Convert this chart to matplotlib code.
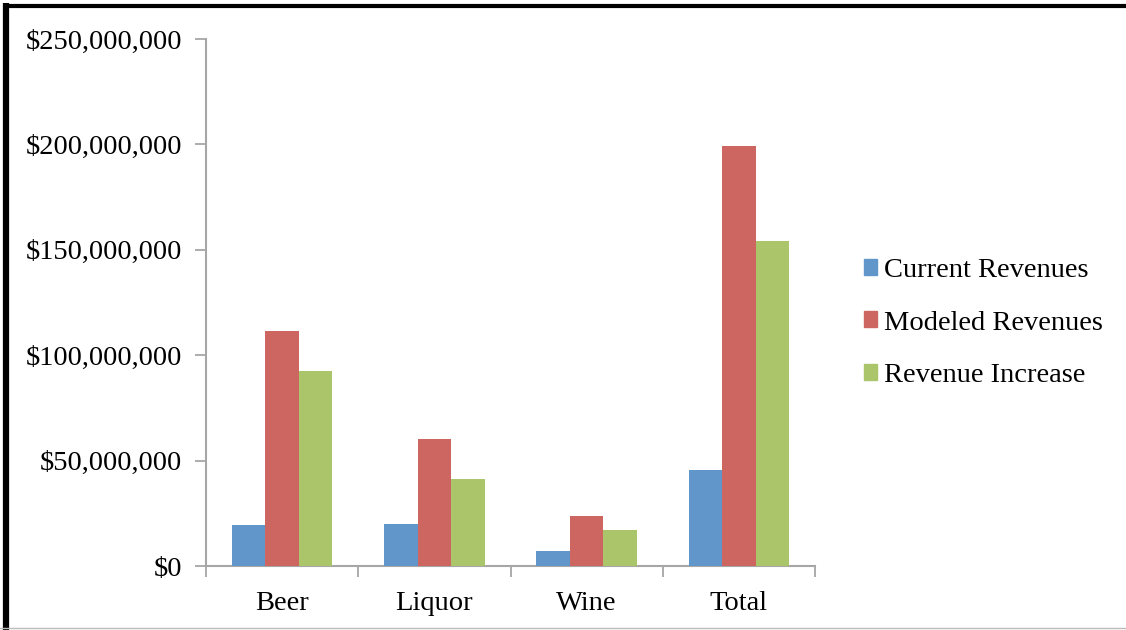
import matplotlib.pyplot as plt
import numpy as np
from matplotlib.patches import Rectangle
from matplotlib.lines import Line2D
from matplotlib.ticker import FuncFormatter

categories = ["Beer", "Liquor", "Wine", "Total"]
series_names = ["Current Revenues", "Modeled Revenues", "Revenue Increase"]
current = [19.4e6, 19.9e6, 7.1e6, 45.5e6]
modeled = [111.5e6, 60.2e6, 23.7e6, 199.2e6]
increase = [92.5e6, 41.3e6, 17.1e6, 154.2e6]
colors = ["#6096C9", "#CD6660", "#ABC56B"]

plt.rcParams['font.family'] = ['Liberation Serif', 'DejaVu Serif']
FS = 20.5

fig = plt.figure(figsize=(11.26, 6.30), dpi=100)
ax = fig.add_axes([206 / 1126, 1 - 566 / 630, (815 - 206) / 1126, (566 - 39) / 630])

x = np.arange(len(categories))
w = 0.22
for i, (vals, name) in enumerate(zip([current, modeled, increase], series_names)):
    ax.bar(x + (i - 1) * w, vals, width=w, color=colors[i], label=name, zorder=3)

ax.set_xlim(-0.5, len(categories) - 0.5)
ax.set_ylim(0, 250e6)
ax.set_yticks(np.arange(0, 250e6 + 1, 50e6))
ax.yaxis.set_major_formatter(FuncFormatter(lambda v, p: f"${v:,.0f}"))
ax.set_xticks(x)
ax.set_xticklabels(categories)
ax.set_xticks(np.arange(-0.5, len(categories), 1), minor=True)
ax.tick_params(axis='x', which='major', length=0, pad=18, labelsize=FS)
ax.tick_params(axis='x', which='minor', length=8, width=1.3, color="#A6A6A6")
ax.tick_params(axis='y', length=8, width=1.3, color="#A6A6A6", pad=9, labelsize=FS)

for s in ["top", "right"]:
    ax.spines[s].set_visible(False)
for s in ["left", "bottom"]:
    ax.spines[s].set_color("#A6A6A6")
    ax.spines[s].set_linewidth(1.5)

handles = [Rectangle((0, 0), 1, 1, color=c) for c in colors]
fig.legend(handles, series_names, loc="center left", bbox_to_anchor=(838 / 1126, 1 - 323 / 630),
           frameon=False, fontsize=FS, handlelength=0.48, handleheight=0.48,
           handletextpad=0.25, labelspacing=0.97)

# page border
fig.add_artist(Line2D([6 / 1126, 6 / 1126], [0, 1 - 3 / 630], color="black", lw=4.5,
                      transform=fig.transFigure, solid_capstyle="butt"))
fig.add_artist(Line2D([3 / 1126, 1], [1 - 5.5 / 630, 1 - 5.5 / 630], color="black", lw=3,
                      transform=fig.transFigure, solid_capstyle="butt"))
fig.add_artist(Line2D([0, 1], [2 / 630, 2 / 630], color="#BBBBBB", lw=1,
                      transform=fig.transFigure))

fig.savefig("out.png", dpi=100)
